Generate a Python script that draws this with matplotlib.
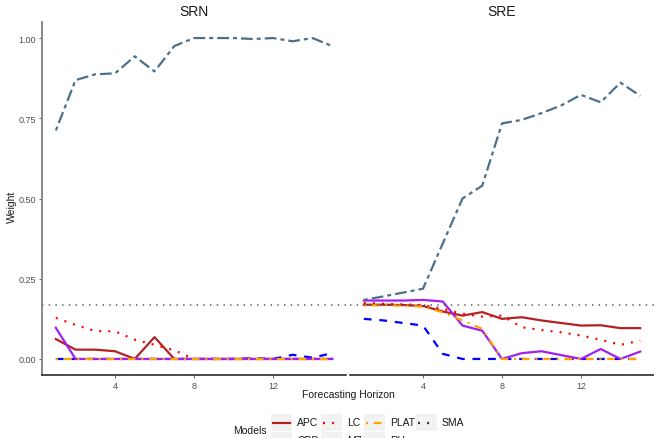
import matplotlib
matplotlib.use("Agg")
import matplotlib.pyplot as plt
from matplotlib.lines import Line2D
from matplotlib.patches import Rectangle

plt.rcParams["font.family"] = ["Liberation Sans", "DejaVu Sans"]

horizon = list(range(1, 16))
panels = ["SRN", "SRE"]
models = ["APC", "CBD", "LC", "M7", "PLAT", "RH"]
sma_weight = 1 / 6

srn = {
    "APC": [0.062, 0.029, 0.029, 0.024, 0.0, 0.068, 0.0, 0, 0, 0, 0, 0, 0, 0, 0],
    "CBD": [0, 0, 0, 0, 0, 0, 0, 0, 0, 0, 0.002, 0.0, 0.013, 0.004, 0.018],
    "LC": [0.128, 0.106, 0.087, 0.086, 0.06, 0.044, 0.027, 0.0, 0, 0, 0, 0, 0, 0, 0],
    "M7": [0.097, 0, 0, 0, 0, 0, 0, 0, 0, 0, 0, 0, 0, 0, 0],
    "PLAT": [0, 0, 0, 0, 0, 0, 0, 0, 0, 0, 0, 0, 0, 0, 0],
    "RH": [0.712, 0.869, 0.887, 0.89, 0.943, 0.896, 0.975, 1.0, 1.0, 1.0,
           0.997, 1.0, 0.99, 1.0, 0.975],
}
sre = {
    "APC": [0.169, 0.169, 0.168, 0.165, 0.148, 0.135, 0.146, 0.125, 0.13, 0.12,
            0.112, 0.104, 0.105, 0.096, 0.096],
    "CBD": [0.125, 0.12, 0.112, 0.104, 0.016, 0.0, 0, 0, 0, 0, 0, 0, 0, 0, 0],
    "LC": [0.175, 0.172, 0.17, 0.168, 0.156, 0.141, 0.132, 0.135, 0.099, 0.09,
           0.083, 0.073, 0.06, 0.044, 0.057],
    "M7": [0.182, 0.182, 0.182, 0.184, 0.179, 0.104, 0.088, 0.0, 0.018, 0.024,
           0.012, 0.0, 0.031, 0.0, 0.023],
    "PLAT": [0.167, 0.167, 0.166, 0.163, 0.145, 0.12, 0.094, 0.0, 0, 0, 0, 0, 0, 0, 0],
    "RH": [0.184, 0.195, 0.207, 0.219, 0.36, 0.5, 0.54, 0.734, 0.745, 0.766,
           0.79, 0.823, 0.80, 0.861, 0.82],
}
weights = {"SRN": srn, "SRE": sre}

# ggplot-like linetypes
styles = {
    "APC": dict(color="#B22222", linestyle="-"),
    "CBD": dict(color="#0000FF", linestyle=(0, (3.5, 3.5))),
    "LC": dict(color="#FF0000", linestyle=(0, (0.9, 3.2))),
    "M7": dict(color="#A020F0", linestyle="-"),
    "PLAT": dict(color="#FFA500", linestyle=(0, (0.9, 2.6, 3.5, 2.6))),
    "RH": dict(color="#4A708B", linestyle=(0, (1.8, 1.8, 5.3, 1.8))),
    "SMA": dict(color="#333333", linestyle=(0, (0.9, 3.2))),
}
LW = 1.6

W, H = 654, 439
fig = plt.figure(figsize=(W / 100, H / 100), dpi=100)

bottom = 1 - 376 / H
top = 1 - 23 / H
boxes = [(42 / W, 346 / W), (350 / W, 654 / W)]

for i, (panel, (l, r)) in enumerate(zip(panels, boxes)):
    ax = fig.add_axes([l, bottom, r - l, top - bottom])
    for m in models:
        ax.plot(horizon, weights[panel][m], lw=LW, **styles[m])
    ax.axhline(sma_weight, lw=1.1, color="#555555", linestyle=(0, (0.9, 3.5)))
    ax.set_xlim(0.3, 15.7)
    ax.set_ylim(-0.05, 1.05)
    ax.set_xticks([4, 8, 12])
    ax.set_yticks([0, 0.25, 0.5, 0.75, 1.0])
    ax.set_yticklabels(["0.00", "0.25", "0.50", "0.75", "1.00"])
    for s in ["top", "right"]:
        ax.spines[s].set_visible(False)
    ax.spines["bottom"].set_color("#1a1a1a")
    ax.spines["bottom"].set_linewidth(1.1)
    ax.spines["left"].set_color("#7f7f7f")
    ax.spines["left"].set_linewidth(1.3)
    ax.tick_params(axis="both", labelsize=6.5, labelcolor="#4d4d4d",
                   color="#4d4d4d", length=2.5, width=0.6, pad=2)
    if i == 1:
        ax.spines["left"].set_visible(False)
        ax.tick_params(axis="y", left=False, labelleft=False)
    ax.set_title(panel, fontsize=10, color="#1a1a1a", pad=5)

fig.text(348 / W, 1 - 395 / H, "Forecasting Horizon", ha="center", va="center",
         fontsize=7.5, color="#1a1a1a")
fig.text(12 / W, 1 - 207 / H, "Weight", ha="center", va="center",
         rotation=90, fontsize=7.5, color="#1a1a1a")

# manual legend, two rows, bottom row clipped by the figure edge
legend_names = ["APC", "CBD", "LC", "M7", "PLAT", "RH", "SMA"]
fig.text(233 / W, 1 - 431 / H, "Models", ha="left", va="center",
         fontsize=7.5, color="#1a1a1a")
col_x = [271, 321, 364, 416]
row_y = [423.5, 441.5]
kw, kh = 21, 17
for k, name in enumerate(legend_names):
    c, rr = divmod(k, 2)
    x0 = col_x[c]
    yc = row_y[rr]
    fig.patches.append(Rectangle((x0 / W, 1 - (yc + kh / 2) / H), kw / W, kh / H,
                                 transform=fig.transFigure, facecolor="#f2f2f2",
                                 edgecolor="none"))
    fig.lines.append(Line2D([(x0 + 2) / W, (x0 + kw - 2) / W],
                            [1 - yc / H, 1 - yc / H], transform=fig.transFigure,
                            lw=LW, **styles[name]))
    fig.text((x0 + kw + 5) / W, 1 - yc / H, name, ha="left", va="center",
             fontsize=7.5, color="#1a1a1a")

fig.savefig("out.png", dpi=100)
